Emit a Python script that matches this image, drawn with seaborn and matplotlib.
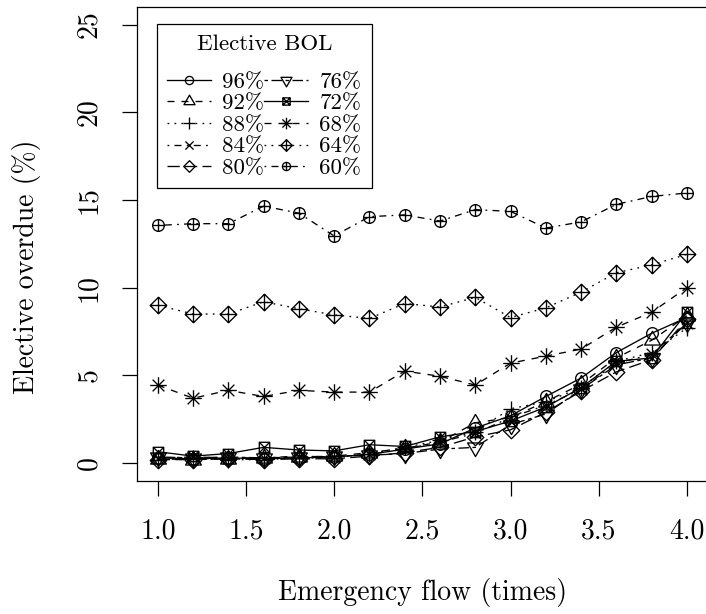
import matplotlib
matplotlib.use("Agg")
import matplotlib.pyplot as plt
from matplotlib.path import Path
import seaborn as sns

# emergency flow multiplier (x axis)
flow = [1.0, 1.2, 1.4, 1.6, 1.8, 2.0, 2.2, 2.4, 2.6, 2.8, 3.0, 3.2, 3.4, 3.6, 3.8, 4.0]

bol_labels = ["96%", "92%", "88%", "84%", "80%", "76%", "72%", "68%", "64%", "60%"]

# elective overdue (%) for each elective BOL level
od_96 = [0.30, 0.25, 0.30, 0.25, 0.30, 0.35, 0.50, 0.80, 1.10, 2.00, 2.70, 3.80, 4.85, 6.30, 7.40, 8.30]
od_92 = [0.25, 0.20, 0.25, 0.30, 0.35, 0.40, 0.60, 0.85, 1.20, 2.30, 2.60, 3.50, 4.50, 6.00, 7.00, 8.40]
od_88 = [0.20, 0.30, 0.20, 0.20, 0.30, 0.30, 0.55, 0.90, 1.30, 1.80, 3.10, 3.50, 4.30, 5.80, 6.30, 7.70]
od_84 = [0.30, 0.35, 0.30, 0.30, 0.40, 0.35, 0.50, 0.80, 1.20, 1.70, 2.60, 3.30, 4.20, 5.70, 6.20, 8.00]
od_80 = [0.20, 0.20, 0.25, 0.20, 0.25, 0.25, 0.40, 0.60, 0.90, 1.50, 1.90, 2.90, 4.10, 5.20, 5.90, 8.20]
od_76 = [0.35, 0.30, 0.35, 0.30, 0.35, 0.40, 0.45, 0.55, 0.80, 0.90, 2.20, 2.80, 4.20, 5.60, 6.00, 8.00]
od_72 = [0.65, 0.40, 0.55, 0.90, 0.75, 0.70, 1.05, 0.95, 1.50, 1.80, 2.40, 3.20, 4.30, 5.80, 6.00, 8.60]
od_68 = [4.45, 3.70, 4.15, 3.80, 4.15, 4.05, 4.05, 5.25, 4.95, 4.45, 5.70, 6.10, 6.50, 7.75, 8.60, 10.00]
od_64 = [9.00, 8.50, 8.50, 9.20, 8.80, 8.45, 8.25, 9.10, 8.90, 9.45, 8.30, 8.85, 9.75, 10.85, 11.30, 11.90]
od_60 = [13.55, 13.65, 13.65, 14.65, 14.25, 12.95, 14.05, 14.15, 13.80, 14.45, 14.35, 13.40, 13.75, 14.75, 15.20, 15.40]

series = [od_96, od_92, od_88, od_84, od_80, od_76, od_72, od_68, od_64, od_60]

plt.rcParams["font.family"] = ["cmr10", "DejaVu Serif"]
plt.rcParams["axes.formatter.use_mathtext"] = True
plt.rcParams["lines.scale_dashes"] = False

M, L, C = Path.MOVETO, Path.LINETO, Path.CLOSEPOLY
cross = Path([(-1, 0), (1, 0), (0, -1), (0, 1)], [M, L, M, L])
s = 0.7071
xcross = Path([(-s, -s), (s, s), (-s, s), (s, -s)], [M, L, M, L])
xbig = Path([(-1, -1), (1, 1), (-1, 1), (1, -1)], [M, L, M, L])
square = Path([(-1, -1), (1, -1), (1, 1), (-1, 1), (-1, -1)], [M, L, L, L, C])
diamond = Path([(0, -1), (1, 0), (0, 1), (-1, 0), (0, -1)], [M, L, L, L, C])
tri_up = Path([(0, 1), (0.866, -0.5), (-0.866, -0.5), (0, 1)], [M, L, L, C])
tri_dn = Path([(0, -1), (0.866, 0.5), (-0.866, 0.5), (0, -1)], [M, L, L, C])
circle = Path.unit_circle()

# R pch 1..10 and lty 1..6 recycled
markers = [circle, tri_up, cross, xbig, diamond, tri_dn,
           Path.make_compound_path(square, xbig),
           Path.make_compound_path(cross, xcross),
           Path.make_compound_path(diamond, cross),
           Path.make_compound_path(circle, cross)]
msizes = [8.4, 13.1, 11.9, 8.4, 11.9, 13.1, 7.5, 11.9, 11.9, 8.4]
u = 1.26
ltys = ["-", (0, (4 * u, 4 * u)), (0, (1 * u, 3 * u)), (0, (1 * u, 3 * u, 4 * u, 3 * u)),
        (0, (7 * u, 3 * u)), (0, (2 * u, 2 * u, 6 * u, 2 * u))]

fig = plt.figure(figsize=(7.06, 6.14), dpi=100)
ax = fig.add_axes([136.7 / 706, 1 - 480.7 / 614, 571.3 / 706, 473.7 / 614])

for i, (vals, lab) in enumerate(zip(series, bol_labels)):
    sns.lineplot(x=flow, y=vals, ax=ax, color="black", linestyle=ltys[i % 6], linewidth=0.95,
                 marker=markers[i], markersize=msizes[i], markerfacecolor="none",
                 markeredgecolor="black", markeredgewidth=0.95, label=lab)

ax.set_xlim(0.88, 4.12)
ax.set_ylim(-1, 26)
ax.set_xticks([1.0, 1.5, 2.0, 2.5, 3.0, 3.5, 4.0])
ax.set_xticklabels(["1.0", "1.5", "2.0", "2.5", "3.0", "3.5", "4.0"])
ax.set_yticks([0, 5, 10, 15, 20, 25])
ax.set_yticklabels(["0", "5", "10", "15", "20", "25"], rotation=90, va="center")
ax.tick_params(axis="both", length=11, width=0.9, labelsize=20, color="black")
ax.tick_params(axis="x", pad=16)
ax.tick_params(axis="y", pad=14)
for sp in ax.spines.values():
    sp.set_color("black")
    sp.set_linewidth(0.9)

ax.set_xlabel("Emergency flow (times)", fontsize=20)
ax.set_ylabel("Elective overdue (%)", fontsize=20)
ax.xaxis.set_label_coords(0.5, -0.205)
ax.yaxis.set_label_coords(-0.168, 0.451)

leg = ax.legend(ncol=2, title="Elective BOL", loc="upper left", bbox_to_anchor=(0.0355, 0.964),
                borderaxespad=0, fontsize=16.5, title_fontsize=16.5, fancybox=False,
                edgecolor="black", framealpha=1, markerscale=0.7, handlelength=1.9,
                handletextpad=0.5, columnspacing=0.0, labelspacing=0.065, borderpad=0.45)
leg.get_frame().set_linewidth(0.9)
# extra room between the title and the entries, like R's legend
leg._legend_box.sep = 13

fig.savefig("out.png", dpi=100)
